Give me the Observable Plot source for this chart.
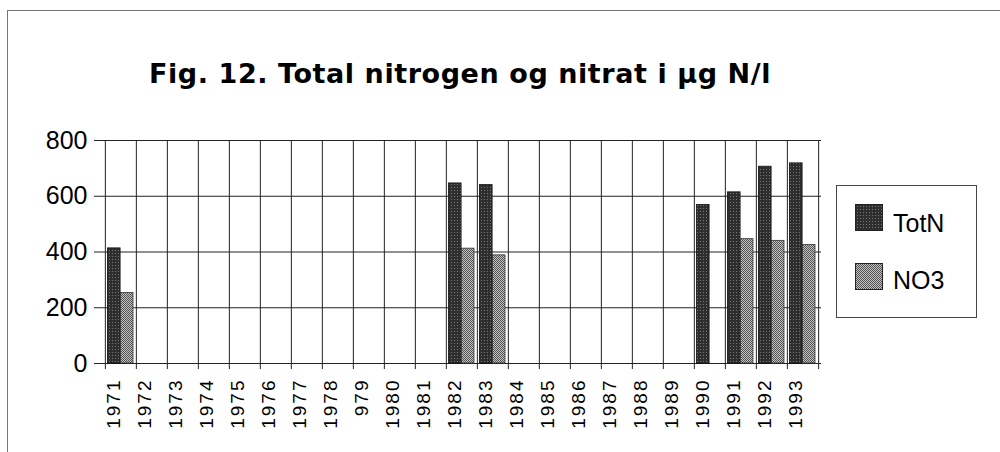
<!DOCTYPE html>
<html><head><meta charset="utf-8">
<script src="https://cdn.jsdelivr.net/npm/d3@7"></script>
<script src="https://cdn.jsdelivr.net/npm/@observablehq/plot@0.6"></script>
<style>
body{margin:0;background:#fff;}
#wrap{position:relative;width:1000px;height:452px;overflow:hidden;font-family:"Liberation Sans",Arial,sans-serif;color:#000;}
#frame{position:absolute;left:7px;top:10px;width:1100px;height:600px;border-left:1px solid #777;border-top:1px solid #777;}
#title{position:absolute;left:149px;top:60px;font-family:"DejaVu Sans",sans-serif;font-weight:bold;font-size:27px;line-height:27px;white-space:nowrap;}
#chart{position:absolute;left:0;top:0;}
#legend{position:absolute;left:836px;top:185px;width:139px;height:131px;border:1px solid #444;background:#fff;}
.sw{position:absolute;left:18px;width:26px;height:25px;border:1px solid #222;}
.lt{position:absolute;left:56px;font-size:25px;line-height:25px;white-space:nowrap;}
</style>
</head><body>
<svg width="0" height="0" style="position:absolute">
<defs>
<pattern id="pTot" width="3" height="3" patternUnits="userSpaceOnUse">
<rect width="3" height="3" fill="#2e2e2e"/><rect x="1" y="1" width="1" height="1" fill="#7a7a7a"/>
</pattern>
<pattern id="pNo3" width="2" height="2" patternUnits="userSpaceOnUse">
<rect width="2" height="2" fill="#c0c0c0"/><rect width="1" height="1" fill="#555"/><rect x="1" y="1" width="1" height="1" fill="#555"/>
</pattern>
</defs></svg>
<div id="wrap">
  <div id="frame"></div>
  <div id="chart"></div>
  <div id="title">Fig. 12. Total nitrogen og nitrat i µg N/l</div>
  <div id="legend">
    <div class="sw" style="top:18px;"><svg width="26" height="25"><rect width="26" height="25" fill="url(#pTot)"/></svg></div>
    <div class="lt" style="top:25px;">TotN</div>
    <div class="sw" style="top:77px;"><svg width="26" height="25"><rect width="26" height="25" fill="url(#pNo3)"/></svg></div>
    <div class="lt" style="top:82px;">NO3</div>
  </div>
</div>
<script>
const years = ["1971","1972","1973","1974","1975","1976","1977","1978","979","1980","1981","1982","1983","1984","1985","1986","1987","1988","1989","1990","1991","1992","1993"];
const totN = [413,null,null,null,null,null,null,null,null,null,null,646,640,null,null,null,null,null,null,569,614,706,718];
const no3  = [253,null,null,null,null,null,null,null,null,null,null,412,388,null,null,null,null,null,null,null,446,440,425];
const yTicks = [0,200,400,600,800];

const rows = years.map((yr,i)=>({year:yr, TotN: totN[i], NO3: no3[i]}));
const W=1000,H=452,ML=101,MR=179,MT=140,MB=89;
const bw=(W-ML-MR)/years.length;

const plot = Plot.plot({
  width:W, height:H, marginLeft:ML, marginRight:MR, marginTop:MT, marginBottom:MB,
  style:{fontFamily:"'Liberation Sans', Arial, sans-serif", fontSize:"24px", color:"#000", background:"transparent", overflow:"visible"},
  x:{type:"band", domain:years, padding:0, label:null},
  y:{domain:[0,800], label:null},
  marks:[
    Plot.ruleY(yTicks, {stroke:"#222", strokeWidth:1, insetLeft:-7}),
    Plot.ruleX(years, {x:d=>d, dx:-bw/2, stroke:"#222", strokeWidth:1, insetBottom:-6}),
    Plot.ruleX([years[years.length-1]], {x:d=>d, dx:bw/2, stroke:"#222", strokeWidth:1, insetBottom:-6}),
    Plot.barY(rows, {x:"year", y:"TotN", fill:"url(#pTot)", stroke:"#111", strokeWidth:0.8, insetLeft:2.4, insetRight:15.9}),
    Plot.barY(rows, {x:"year", y:"NO3", fill:"url(#pNo3)", stroke:"#333", strokeWidth:0.8, insetLeft:15.4, insetRight:3}),
    Plot.axisY({ticks:yTicks, tickSize:0, tickPadding:14, fontSize:25, label:null}),
    Plot.axisX({tickRotate:-90, tickSize:0, tickPadding:15, fontSize:19, dx:-7, label:null})
  ]
});
document.getElementById("chart").appendChild(plot);
d3.select(plot).selectAll('g[aria-label="x-axis tick label"] text').style("letter-spacing","2px");

// fit title width to reference span
const t = document.getElementById("title");
const target = 622;
const w = t.getBoundingClientRect().width;
const n = t.textContent.length;
t.style.letterSpacing = ((target - w)/n) + "px";
</script>
</body></html>
